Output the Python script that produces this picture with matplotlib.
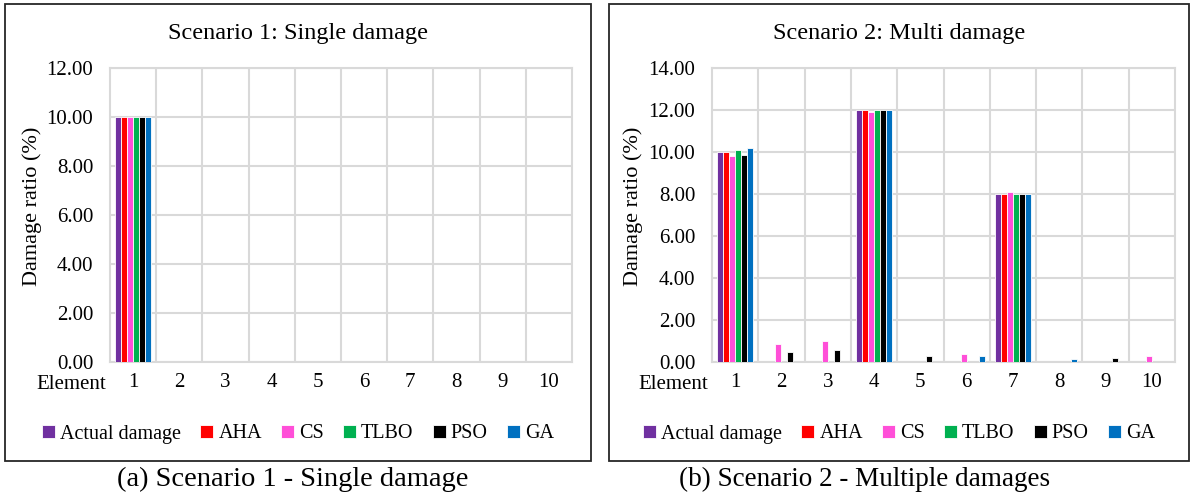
import numpy as np
import matplotlib
matplotlib.use("Agg")
import matplotlib.pyplot as plt
from matplotlib.patches import Rectangle

plt.rcParams["font.family"] = ["Liberation Serif", "DejaVu Serif"]

elements = [str(i) for i in range(1, 11)]
methods = ["Actual damage", "AHA", "CS", "TLBO", "PSO", "GA"]
colors = ["#7030a0", "#ff0000", "#ff4fd8", "#00b050", "#000000", "#0070c0"]

# Scenario 1: single damage at element 1
s1_actual = [10, 0, 0, 0, 0, 0, 0, 0, 0, 0]
s1_aha    = [10, 0, 0, 0, 0, 0, 0, 0, 0, 0]
s1_cs     = [10, 0, 0, 0, 0, 0, 0, 0, 0, 0]
s1_tlbo   = [10, 0, 0, 0, 0, 0, 0, 0, 0, 0]
s1_pso    = [10, 0, 0, 0, 0, 0, 0, 0, 0, 0]
s1_ga     = [10, 0, 0, 0, 0, 0, 0, 0, 0, 0]

# Scenario 2: damage at elements 1, 4 and 7
s2_actual = [10.0, 0, 0, 12.0, 0, 0, 8.0, 0, 0, 0]
s2_aha    = [10.0, 0, 0, 12.0, 0, 0, 8.0, 0, 0, 0]
s2_cs     = [9.8, 0.87, 1.0, 11.9, 0, 0.4, 8.08, 0, 0, 0.3]
s2_tlbo   = [10.1, 0, 0, 12.0, 0, 0, 8.0, 0, 0, 0]
s2_pso    = [9.88, 0.5, 0.58, 12.0, 0.3, 0, 8.0, 0, 0.2, 0]
s2_ga     = [10.2, 0, 0, 12.0, 0, 0.3, 8.0, 0.12, 0, 0]

W, H = 1192, 498
fig = plt.figure(figsize=(W / 100, H / 100), dpi=100)


def panel(rect_px, title, series, ymax, caption, box_px, cap_cx, cap_size):
    x0, y0, w, h = rect_px
    bx, bw_px = box_px
    ax = fig.add_axes([x0 / W, 1 - (y0 + h) / H, w / W, h / H])
    x = np.arange(len(elements))
    bw = 0.13
    for i, (vals, c) in enumerate(zip(series, colors)):
        ax.bar(x + (i - 2.5) * bw, vals, bw, color=c, edgecolor="white",
               linewidth=0.6, label=methods[i], zorder=3)
    ax.set_xlim(-0.5, len(elements) - 0.5)
    ax.set_ylim(0, ymax)
    ax.set_yticks(np.arange(0, ymax + 0.1, 2))
    ax.set_yticklabels([f"{v:.2f}" for v in np.arange(0, ymax + 0.1, 2)])
    ax.set_xticks(x)
    ax.set_xticklabels(elements)
    ax.tick_params(length=0, labelsize=15, pad=8)
    ax.tick_params(axis="y", pad=12)
    for b in np.arange(0.5, len(elements) - 0.5, 1):
        ax.axvline(b, color="#d9d9d9", lw=1.5, zorder=1)
    ax.grid(axis="y", color="#d9d9d9", lw=1.5, zorder=1)
    ax.set_axisbelow(True)
    for s in ax.spines.values():
        s.set_color("#d9d9d9")
        s.set_linewidth(1.5)
    ax.set_ylabel("Damage ratio (%)", fontsize=16)
    ax.yaxis.set_label_coords(-0.148, 0.53)
    ax.text(-0.008, -0.075, "Element", transform=ax.transAxes, ha="right",
            va="center", fontsize=15)
    cx = (bx + bw_px / 2) / W
    fig.text(cx, 1 - 33 / H, title, ha="center", va="center", fontsize=17.5)
    fig.legend(*ax.get_legend_handles_labels(), loc="center",
               bbox_to_anchor=(cx, 1 - 434 / H), ncol=6, frameon=False,
               fontsize=14.5, handlelength=0.65, handleheight=0.65,
               handletextpad=0.25, columnspacing=0.95)
    fig.text(cap_cx / W, 1 - 479 / H, caption, ha="center", va="center",
             fontsize=cap_size)
    return ax


# panel borders
boxes = [(5, 586), (609, 580)]
for bx, bwid in boxes:
    fig.add_artist(Rectangle((bx / W, 1 - 461 / H), bwid / W, 457 / H,
                             transform=fig.transFigure, fill=False,
                             edgecolor="#262626", lw=1.3))

panel((110, 68, 462, 294), "Scenario 1: Single damage",
      [s1_actual, s1_aha, s1_cs, s1_tlbo, s1_pso, s1_ga], 12,
      "(a) Scenario 1 - Single damage", boxes[0], 293, 20.5)
panel((712, 68, 463, 294), "Scenario 2: Multi damage",
      [s2_actual, s2_aha, s2_cs, s2_tlbo, s2_pso, s2_ga], 14,
      "(b) Scenario 2 - Multiple damages", boxes[1], 865, 19.5)

fig.savefig("out.png", dpi=100)
